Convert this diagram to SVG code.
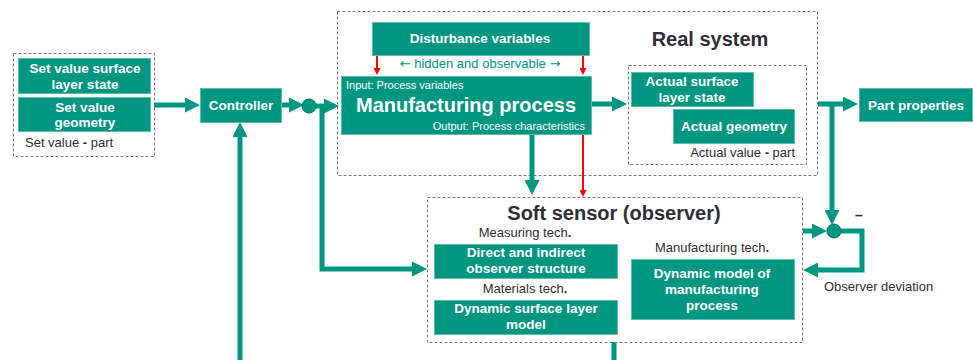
<svg xmlns="http://www.w3.org/2000/svg" width="973" height="360" viewBox="0 0 973 360">
  <style>
    text { font-family: "Liberation Sans", Arial, sans-serif; }
    .box { fill: #009682; stroke: #5cbcad; stroke-width: 1; }
    .lbl { fill: #ffffff; font-size: 13.5px; font-weight: bold; text-anchor: middle; }
    .frame { fill: none; stroke: #777777; stroke-width: 1; stroke-dasharray: 3 2; }
    .note { fill: #2e2e36; font-size: 13px; }
    .title { fill: #2e2e3a; font-size: 20px; font-weight: bold; text-anchor: middle; }
    .small { fill: #ffffff; font-size: 11px; }
    .arrowglyph { font-family: "DejaVu Sans", sans-serif; }
    .flow { fill: none; stroke: #009682; stroke-width: 5; marker-end: url(#head); }
    .plain { fill: none; stroke: #009682; stroke-width: 5; }
    .dist { fill: none; stroke: #ff0000; stroke-width: 2; marker-end: url(#redhead); }
    .sum { fill: #009682; stroke: #00705f; stroke-width: 1; }
  </style>
  <defs>
    <marker id="head" markerUnits="userSpaceOnUse" markerWidth="15" markerHeight="15" refX="0" refY="7.5" orient="auto">
      <path d="M0,0 L15,7.5 L0,15 z" fill="#009682"/>
    </marker>
    <marker id="redhead" markerUnits="userSpaceOnUse" markerWidth="7" markerHeight="7" refX="0" refY="3.5" orient="auto">
      <path d="M0,0 L7,3.5 L0,7 z" fill="#ff0000"/>
    </marker>
  </defs>

  <!-- dashed frames -->
  <rect class="frame" x="13.5" y="53.5" width="141" height="103"/>
  <rect class="frame" x="337.5" y="11.5" width="480" height="164"/>
  <rect class="frame" x="628.5" y="65.5" width="178" height="99"/>
  <rect class="frame" x="427.5" y="197.5" width="375" height="145"/>

  <!-- connectors -->
  <g id="connectors">
    <path class="flow" d="M154,105 H185"/>
    <path class="flow" d="M281,105 H289"/>
    <path class="flow" d="M316,106 H324"/>
    <path class="flow" d="M322,106 V269 H412"/>
    <path class="flow" d="M240,360 V137"/>
    <path class="flow" d="M591,104 H612"/>
    <path class="flow" d="M818,104 H843"/>
    <path class="flow" d="M832,104 V210"/>
    <path class="flow" d="M532,134 V180"/>
    <path class="flow" d="M803,231 H812"/>
    <path class="flow" d="M841,231 H862 V270 H818"/>
    <path class="plain" d="M614,342 V360"/>
    <path class="dist" d="M377,55 V68"/>
    <path class="dist" d="M583,55 V68"/>
    <path class="dist" d="M583,134 V190"/>
  </g>

  <!-- summing points -->
  <g id="sum-left"><circle class="sum" cx="309" cy="106" r="7"/></g>
  <g id="sum-right">
    <circle class="sum" cx="834" cy="231" r="7"/>
    <text x="855" y="220" style="fill:#2e2e36;font-size:14px;font-weight:bold">–</text>
  </g>

  <!-- set value -->
  <g id="set-surface">
    <rect class="box" x="18.5" y="58.5" width="132" height="35"/>
    <text class="lbl" x="85" y="73">Set value surface</text>
    <text class="lbl" x="85" y="89">layer state</text>
  </g>
  <g id="set-geometry">
    <rect class="box" x="18.5" y="97.5" width="132" height="34"/>
    <text class="lbl" x="85" y="112">Set value</text>
    <text class="lbl" x="85" y="127">geometry</text>
  </g>
  <text class="note" x="25" y="147">Set value <tspan font-weight="bold">-</tspan> part</text>

  <g id="controller">
    <rect class="box" x="200.5" y="88.5" width="81" height="34"/>
    <text class="lbl" x="241" y="110">Controller</text>
  </g>

  <!-- real system -->
  <text class="title" x="710" y="46">Real system</text>
  <g id="disturbance">
    <rect class="box" x="372.5" y="22.5" width="217" height="33"/>
    <text class="lbl" x="480" y="43">Disturbance variables</text>
  </g>
  <text x="480" y="68" style="fill:#009682;font-size:13px;text-anchor:middle"><tspan class="arrowglyph">←</tspan> hidden and observable <tspan class="arrowglyph">→</tspan></text>

  <g id="manufacturing-process">
    <rect class="box" x="341.5" y="76.5" width="250" height="58"/>
    <text class="small" x="346" y="89">Input: Process variables</text>
    <text x="466" y="112" style="fill:#ffffff;font-size:20px;font-weight:bold;text-anchor:middle">Manufacturing process</text>
    <text class="small" x="585" y="130" text-anchor="end">Output: Process characteristics</text>
  </g>

  <g id="actual-surface">
    <rect class="box" x="631.5" y="72.5" width="122" height="34"/>
    <text class="lbl" x="692" y="86">Actual surface</text>
    <text class="lbl" x="692" y="102">layer state</text>
  </g>
  <g id="actual-geometry">
    <rect class="box" x="673.5" y="109.5" width="121" height="34"/>
    <text class="lbl" x="734" y="131">Actual geometry</text>
  </g>
  <text class="note" x="795" y="157" text-anchor="end">Actual value <tspan font-weight="bold">-</tspan> part</text>

  <g id="part-properties">
    <rect class="box" x="859.5" y="88.5" width="113" height="33"/>
    <text class="lbl" x="916" y="110">Part properties</text>
  </g>

  <!-- soft sensor -->
  <text class="title" x="614" y="220">Soft sensor (observer)</text>
  <text class="note" x="525" y="237" text-anchor="middle">Measuring tech<tspan font-weight="bold">.</tspan></text>
  <g id="observer-structure">
    <rect class="box" x="434.5" y="244.5" width="183" height="34"/>
    <text class="lbl" x="526" y="257">Direct and indirect</text>
    <text class="lbl" x="526" y="273">observer structure</text>
  </g>
  <text class="note" x="525" y="293" text-anchor="middle">Materials tech<tspan font-weight="bold">.</tspan></text>
  <g id="surface-layer-model">
    <rect class="box" x="434.5" y="300.5" width="183" height="34"/>
    <text class="lbl" x="526" y="313">Dynamic surface layer</text>
    <text class="lbl" x="526" y="329">model</text>
  </g>
  <text class="note" x="712" y="252" text-anchor="middle">Manufacturing tech<tspan font-weight="bold">.</tspan></text>
  <g id="process-model">
    <rect class="box" x="631.5" y="259.5" width="163" height="60"/>
    <text class="lbl" x="712" y="278">Dynamic model of</text>
    <text class="lbl" x="712" y="294">manufacturing</text>
    <text class="lbl" x="712" y="310">process</text>
  </g>
  <text class="note" x="824" y="291">Observer deviation</text>
</svg>
